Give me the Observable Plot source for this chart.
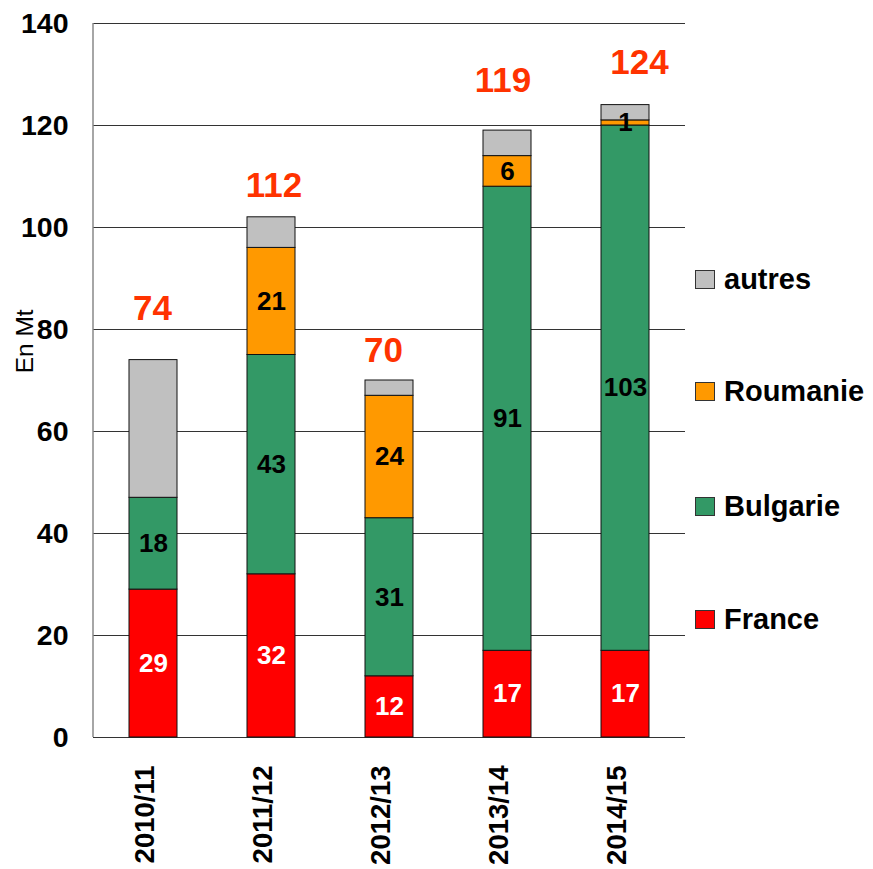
<!DOCTYPE html>
<html>
<head>
<meta charset="utf-8">
<script src="https://cdn.jsdelivr.net/npm/d3@7"></script>
<script src="https://cdn.jsdelivr.net/npm/@observablehq/plot@0.6"></script>
<style>
  body { margin: 0; background: white; }
  #wrap { position: relative; width: 873px; height: 869px; font-family: "Liberation Sans", Arial, sans-serif; }
  .leg { position: absolute; left: 695px; display: flex; align-items: center; font-weight: bold; font-size: 29px; color: #000; line-height: 1; white-space: nowrap; }
  .sw { width: 18px; height: 17px; border: 1px solid #333; margin-right: 9px; flex: none; }
</style>
</head>
<body>
<div id="wrap"></div>
<script>
const years = ["2010/11", "2011/12", "2012/13", "2013/14", "2014/15"];
const seriesNames = ["France", "Bulgarie", "Roumanie", "autres"];
const france = [29, 32, 12, 17, 17];
const bulgarie = [18, 43, 31, 91, 103];
const roumanie = [0, 21, 24, 6, 1];
const autres = [27, 6, 3, 5, 3];
const totalLabels = ["74", "112", "70", "119", "124"];
const totalLabelY = [84.0, 108.2, 75.9, 128.7, 132.3];
const totalLabelDx = [-1, 2.5, -6, -4.5, 14];
const seriesColors = ["#FF0000", "#339966", "#FF9900", "#C0C0C0"];
const yTicks = [0, 20, 40, 60, 80, 100, 120, 140];
const legendOrder = ["autres", "Roumanie", "Bulgarie", "France"];
const yAxisLabel = "En Mt";
const yAxisLabelAt = 71.4;

const valuesBySeries = {France: france, Bulgarie: bulgarie, Roumanie: roumanie, autres: autres};
const data = [];
years.forEach((year, i) => {
  seriesNames.forEach(s => data.push({year, series: s, value: valuesBySeries[s][i]}));
});
const totals = years.map((year, i) => ({year, label: totalLabels[i], y: totalLabelY[i], dx: totalLabelDx[i]}));

const font = "Liberation Sans, Arial, sans-serif";

const chart = Plot.plot({
  width: 873,
  height: 869,
  marginLeft: 93,
  marginRight: 188,
  marginTop: 23,
  marginBottom: 132,
  style: {fontFamily: font, fontWeight: "bold", background: "white", overflow: "visible"},
  x: {domain: years, paddingInner: 0.595, paddingOuter: 0.2975, axis: null},
  y: {domain: [0, 140], axis: null},
  color: {domain: seriesNames, range: seriesColors},
  marks: [
    Plot.ruleY(yTicks, {stroke: "#333", strokeWidth: 1}),
    Plot.barY(data, {x: "year", y: "value", z: "series", fill: "series", stroke: "#111", strokeWidth: 1}),
    Plot.text(data, Plot.stackY({x: "year", y: "value", z: "series",
      text: d => d.series === "France" ? String(d.value) : "",
      fill: "white", fontSize: 26, fontWeight: "bold"})),
    Plot.text(data, Plot.stackY({x: "year", y: "value", z: "series",
      text: d => (d.series === "Bulgarie" || d.series === "Roumanie") && d.value > 0 ? String(d.value) : "",
      fill: "black", fontSize: 26, fontWeight: "bold"})),
    ...totals.map(t => Plot.text([t], {x: "year", y: "y", text: "label", dx: t.dx, fill: "#FF3300", fontSize: 35, fontWeight: "bold"})),
    Plot.text(yTicks, {y: d => d, frameAnchor: "left", dx: -25, textAnchor: "end", text: d => String(d), fontSize: 28.5, fill: "black"}),
    Plot.text(years, {x: d => d, frameAnchor: "bottom", dy: 28, rotate: -90, textAnchor: "end", text: d => d, fontSize: 27.5, fill: "black"}),
    Plot.text([yAxisLabel], {y: () => yAxisLabelAt, frameAnchor: "left", dx: -68.5, rotate: -90, text: d => d, fontSize: 24.5, fontWeight: "normal", fill: "black"})
  ]
});

// left axis line, positioned from the plot's own scales
const ys = chart.scale("y");
const xs = chart.scale("x");
d3.select(chart).append("line")
  .attr("x1", xs.range[0]).attr("x2", xs.range[0])
  .attr("y1", ys.range[0]).attr("y2", ys.range[1])
  .attr("stroke", "#888").attr("stroke-width", 1.5);

const wrap = document.getElementById("wrap");
wrap.appendChild(chart);

const legendTops = [279, 391, 506, 619];
legendOrder.forEach((s, i) => {
  const div = document.createElement("div");
  div.className = "leg";
  div.style.top = (legendTops[i] - 14) + "px";
  div.style.height = "28px";
  const sw = document.createElement("span");
  sw.className = "sw";
  sw.style.background = seriesColors[seriesNames.indexOf(s)];
  const t = document.createElement("span");
  t.textContent = s;
  div.appendChild(sw);
  div.appendChild(t);
  wrap.appendChild(div);
});
</script>
</body>
</html>
